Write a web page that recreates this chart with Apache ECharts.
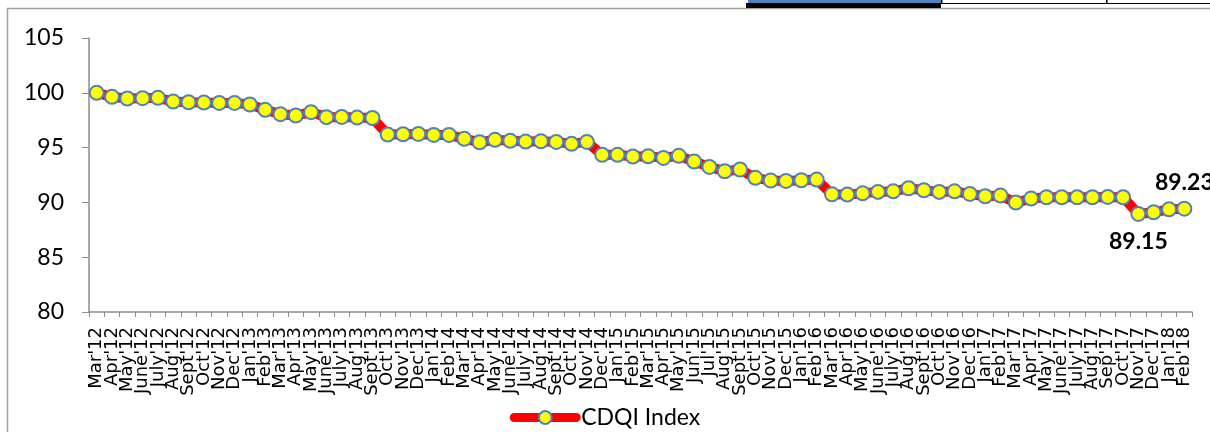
<!DOCTYPE html>
<html>
<head>
<meta charset="utf-8">
<script src="https://cdn.jsdelivr.net/npm/echarts@6/dist/echarts.min.js"></script>
<style>
  html, body { margin: 0; padding: 0; background: #fff; }
  #main { width: 1210px; height: 432px; }
</style>
</head>
<body>
<div id="main"></div>
<script>
  // month labels, Mar'12 .. Feb'18
  var months = [
    "Mar'12", "Apr'12", "May'12", "June'12", "July'12", "Aug'12", "Sept'12", "Oct'12", "Nov'12", "Dec'12",
    "Jan'13", "Feb'13", "Mar'13", "Apr'13", "May'13", "June'13", "July'13", "Aug'13", "Sept'13", "Oct'13", "Nov'13", "Dec'13",
    "Jan'14", "Feb'14", "Mar'14", "Apr'14", "May'14", "June'14", "July'14", "Aug'14", "Sept'14", "Oct'14", "Nov'14", "Dec'14",
    "Jan'15", "Feb'15", "Mar'15", "Apr'15", "May'15", "Jun'15", "Jul'15", "Aug'15", "Sept'15", "Oct'15", "Nov'15", "Dec'15",
    "Jan'16", "Feb'16", "Mar'16", "Apr'16", "May'16", "June'16", "July'16", "Aug'16", "Sept'16", "Oct'16", "Nov'16", "Dec'16",
    "Jan'17", "Feb'17", "Mar'17", "Apr'17", "May'17", "June'17", "July'17", "Aug'17", "Sep'17", "Oct'17", "Nov'17", "Dec'17",
    "Jan'18", "Feb'18"
  ];

  var cdqi = [
    100.00, 99.63, 99.48, 99.51, 99.54, 99.20, 99.14, 99.11, 99.08, 99.08,
    98.93, 98.45, 98.05, 97.93, 98.23, 97.78, 97.80, 97.74, 97.70, 96.19, 96.22, 96.25,
    96.16, 96.16, 95.80, 95.49, 95.71, 95.62, 95.55, 95.58, 95.52, 95.34, 95.52, 94.34,
    94.34, 94.18, 94.21, 94.06, 94.25, 93.73, 93.24, 92.84, 93.00, 92.24, 91.99, 91.96,
    92.02, 92.08, 90.74, 90.71, 90.83, 90.96, 91.01, 91.29, 91.11, 90.96, 91.01, 90.77,
    90.56, 90.62, 89.98, 90.35, 90.47, 90.47, 90.47, 90.47, 90.50, 90.47, 88.95, 89.10,
    89.37, 89.43
  ];

  // the two value callouts written on the chart
  var noteMonths = ["Nov'17", "Feb'18"];
  var noteTexts = ["89.15", "89.23"];
  var notePos = ['bottom', 'top'];

  var yTicks = [80, 85, 90, 95, 100, 105];

  var seriesData = cdqi.map(function (v, i) {
    var k = noteMonths.indexOf(months[i]);
    if (k < 0) return v;
    return {
      value: v,
      label: {
        show: true,
        position: notePos[k],
        distance: k === 0 ? 8 : 7,
        formatter: noteTexts[k],
        fontFamily: 'Lato',
        fontWeight: 'bold',
        fontSize: 23,
        color: '#000'
      }
    };
  });

  var chart = echarts.init(document.getElementById('main'));
  var option = {
    animation: false,
    backgroundColor: '#fff',
    graphic: [
      // outer chart frame
      { type: 'rect', shape: { x: 7.5, y: 8.5, width: 1220, height: 440 }, style: { fill: 'none', stroke: '#a0a0a0', lineWidth: 1.5 }, silent: true },
      // bits of the sheet above the chart
      { type: 'rect', shape: { x: 748, y: 0, width: 193, height: 3 }, style: { fill: '#4f81bd' }, silent: true },
      { type: 'rect', shape: { x: 746, y: 3, width: 195, height: 5 }, style: { fill: '#000' }, silent: true },
      { type: 'rect', shape: { x: 941, y: 3, width: 269, height: 1 }, style: { fill: '#000' }, silent: true },
      { type: 'rect', shape: { x: 941, y: 0, width: 1.5, height: 4 }, style: { fill: '#000' }, silent: true },
      { type: 'rect', shape: { x: 1106, y: 0, width: 1.5, height: 4 }, style: { fill: '#000' }, silent: true }
    ],
    grid: {
      left: 89,
      right: 18,
      top: 38,
      bottom: 120
    },
    legend: {
      data: ['CDQI Index'],
      top: 401,
      left: 'center',
      itemWidth: 62,
      itemHeight: 16,
      lineStyle: { width: 9, cap: 'round' },
      textStyle: { fontFamily: 'Lato', fontSize: 23, color: '#000' }
    },
    xAxis: {
      type: 'category',
      data: months,
      boundaryGap: true,
      axisLine: { lineStyle: { color: '#8c8c8c', width: 1.5 } },
      axisTick: { show: true, length: 5, lineStyle: { color: '#8c8c8c' } },
      axisLabel: {
        interval: 0,
        rotate: 90,
        margin: 15,
        fontFamily: 'DejaVu Sans',
        fontSize: 18,
        color: '#000'
      }
    },
    yAxis: {
      type: 'value',
      min: yTicks[0],
      max: yTicks[yTicks.length - 1],
      interval: 5,
      splitLine: { show: false },
      axisLine: { show: true, lineStyle: { color: '#8c8c8c', width: 1.5 } },
      axisTick: { show: true, length: 7, lineStyle: { color: '#8c8c8c' } },
      axisLabel: {
        margin: 25,
        fontFamily: 'Lato',
        fontSize: 23,
        color: '#000'
      }
    },
    series: [
      {
        name: 'CDQI Index',
        type: 'line',
        data: seriesData,
        symbol: 'circle',
        symbolSize: 14,
        lineStyle: { color: '#ff0000', width: 10 },
        itemStyle: { color: '#ffff00', borderColor: '#4f81bd', borderWidth: 2 }
      }
    ]
  };
  chart.setOption(option);
</script>
</body>
</html>
